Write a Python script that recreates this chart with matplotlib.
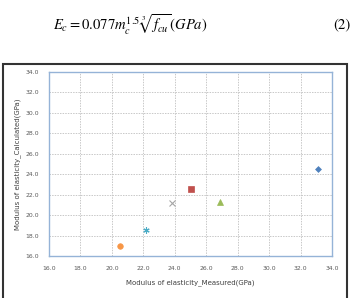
import matplotlib
matplotlib.use("Agg")
import matplotlib.pyplot as plt
from matplotlib.patches import Rectangle

# Data
measured = [33.1, 25.0, 26.9, 23.8, 22.2, 20.5]
calculated = [24.5, 22.6, 21.3, 21.2, 18.5, 17.0]
markers = ['D', 's', '^', 'x', (6, 2, 0), 'o']
colors = ['#4F81BD', '#C0504D', '#9BBB59', '#A6A6A6', '#4BACC6', '#F79646']
sizes = [3.0, 4.2, 4.0, 4.2, 4.5, 4.0]
ticks = [16.0, 18.0, 20.0, 22.0, 24.0, 26.0, 28.0, 30.0, 32.0, 34.0]

plt.rcParams['mathtext.fontset'] = 'stix'
fig = plt.figure(figsize=(3.51, 2.98), dpi=100)
fig.patch.set_facecolor('white')

# Equation above the chart
fig.text(53/351, 1 - 25/298, r'$E_c = 0.077m_c^{1.5}\,\sqrt[3]{f_{cu}}(GPa)$',
         fontsize=10.5, ha='left', va='center', family='STIXGeneral')
fig.text(350/351, 1 - 25/298, '(2)', fontsize=10.5, ha='right', va='center',
         family='STIXGeneral')

# Outer chart border
fig.patches.append(Rectangle((3/351, -0.05), (347-3)/351, (1 - 64/298) + 0.05,
                             transform=fig.transFigure, fill=False,
                             edgecolor='#333333', linewidth=1.5))

ax = fig.add_axes([49/351, 1 - 256/298, 283/351, 184/298])
for m, c, s, x, y in zip(markers, colors, sizes, measured, calculated):
    ax.plot([x], [y], linestyle='none', marker=m, color=c, markersize=s,
            markeredgewidth=0.8 if m in ('x',) or isinstance(m, tuple) else 0.5)

ax.set_xlim(16, 34)
ax.set_ylim(16, 34)
ax.set_xticks(ticks)
ax.set_yticks(ticks)
ax.set_xticklabels([f'{t:.1f}' for t in ticks])
ax.set_yticklabels([f'{t:.1f}' for t in ticks])
ax.tick_params(length=0, labelsize=4.4, colors='#595959', pad=7)
ax.grid(True, color='#C8C8C8', linestyle=(0, (1.5, 1.2)), linewidth=0.7)
ax.set_axisbelow(True)
for sp in ax.spines.values():
    sp.set_color('#95B3D7')
    sp.set_linewidth(1.0)

ax.set_xlabel('Modulus of elasticity_Measured(GPa)', fontsize=5, color='#404040', labelpad=6)
ax.set_ylabel('Modulus of elasticity_Calculated(GPa)', fontsize=5, color='#404040', labelpad=3)

fig.savefig('out.png', dpi=100)
